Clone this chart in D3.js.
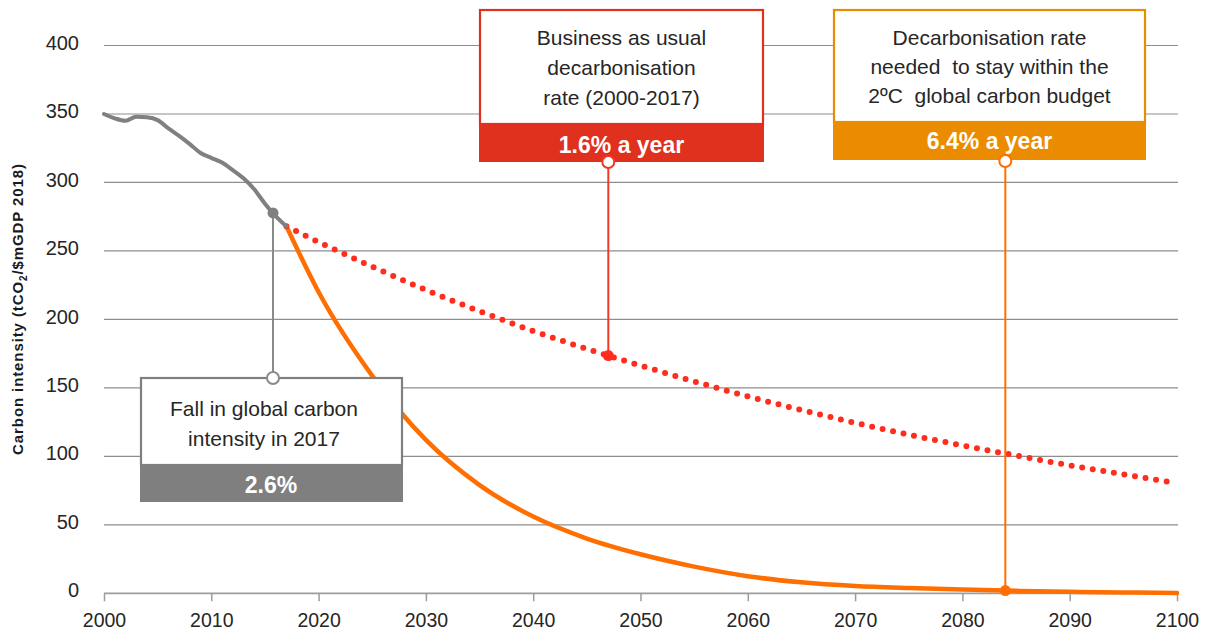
<!DOCTYPE html>
<html>
<head>
<meta charset="utf-8">
<script src="https://cdn.jsdelivr.net/npm/d3@7"></script>
<style>
  html, body { margin: 0; padding: 0; background: #ffffff; }
  svg { display: block; font-family: "Liberation Sans", Arial, Helvetica, sans-serif; }
  text { white-space: pre; }
</style>
</head>
<body>
<svg id="chart" width="1224" height="632"></svg>
<script>
// ---------- data ----------
const histYears  = [2000,2001,2002,2003,2004,2005,2006,2007,2008,2009,2010,2011,2012,2013,2014,2015,2016,2017];
const histValues = [350,346.8,345,348,347.6,345.5,339.5,334,328,321.5,318,314.5,309,303,295,284.5,275.5,268];

const projYears  = [2017,2020,2025,2030,2035,2040,2045,2050,2055,2060,2065,2070,2075,2080,2085,2090,2095,2100];
const bauValues  = [268,256.5,238.5,221.5,206,191.5,178.5,166.3,154.7,143.8,133.8,124.5,115.8,108,100.6,93.4,86.8,80.5];
const budgetValues = [268,220,158.8,112,79,56,40,28.5,19.5,12.5,8,5.3,3.8,2.7,1.8,1.1,0.6,0.3];

const xTicks = [2000,2010,2020,2030,2040,2050,2060,2070,2080,2090,2100];
const yTicks = [0,50,100,150,200,250,300,350,400];

const yTitle = ["Carbon intensity (tCO", "2", "/$mGDP 2018)"];

const histNote   = { year: 2015.75, lines: ["Fall in global carbon", "intensity in 2017"], value: "2.6%" };
const bauNote    = { year: 2047, lines: ["Business as usual", "decarbonisation", "rate (2000-2017)"], value: "1.6% a year" };
const budgetNote = { year: 2084, lines: ["Decarbonisation rate", "needed  to stay within the", "2ºC  global carbon budget"], value: "6.4% a year" };

// ---------- setup ----------
const svg = d3.select("#chart");
const x = d3.scaleLinear().domain([2000, 2100]).range([104, 1177]);
const y = d3.scaleLinear().domain([0, 400]).range([593.3, 45.5]);

const C = {
  grid: "#8e8e8e", axis: "#9c9c9c", gray: "#808080",
  red: "#ff2d1e", redBox: "#e0301e", orange: "#ff6e00", orangeBox: "#eb8c00",
  text: "#262626"
};

svg.append("rect").attr("width", 1224).attr("height", 632).attr("fill", "#fff");

// gridlines
svg.append("g").selectAll("line").data(yTicks.filter(d => d > 0)).join("line")
  .attr("x1", x(2000)).attr("x2", x(2100) + 1)
  .attr("y1", d => y(d)).attr("y2", d => y(d))
  .attr("stroke", C.grid).attr("stroke-width", 1.2);

// x axis
const xAxis = svg.append("g").attr("transform", `translate(0,${y(0)})`)
  .call(d3.axisBottom(x).tickValues(xTicks).tickSize(8).tickPadding(12).tickFormat(d3.format("d")));
xAxis.select(".domain").remove();
xAxis.selectAll(".tick line").attr("stroke", C.axis).attr("stroke-width", 1.5);
xAxis.selectAll(".tick text").attr("font-size", 19.5).attr("fill", C.text)
  .attr("font-family", "'Liberation Sans', Arial, sans-serif");
svg.append("line").attr("x1", x(2000)).attr("x2", x(2100) + 1)
  .attr("y1", y(0)).attr("y2", y(0)).attr("stroke", C.axis).attr("stroke-width", 1.8);

// y axis
const yAxis = svg.append("g").attr("transform", `translate(${x(2000)},0)`)
  .call(d3.axisLeft(y).tickValues(yTicks).tickSize(0).tickPadding(25));
yAxis.select(".domain").remove();
yAxis.selectAll(".tick text").attr("font-size", 20).attr("fill", C.text).attr("dy", "0.18em")
  .attr("font-family", "'Liberation Sans', Arial, sans-serif");

// y title
const yt = svg.append("text")
  .attr("transform", "translate(23,309) rotate(-90)")
  .attr("text-anchor", "middle").attr("font-size", 15).attr("font-weight", "bold").attr("fill", "#1a1a1a")
  .attr("letter-spacing", 0.9);
yt.append("tspan").text(yTitle[0]);
yt.append("tspan").text(yTitle[1]).attr("font-size", 10).attr("dy", 4);
yt.append("tspan").text(yTitle[2]).attr("dy", -4);

// ---------- lines ----------
const hist = histYears.map((d, i) => ({ year: d, v: histValues[i] }));
const bau = projYears.map((d, i) => ({ year: d, v: bauValues[i] }));
const budget = projYears.map((d, i) => ({ year: d, v: budgetValues[i] }));

const line = d3.line().x(d => x(d.year)).y(d => y(d.v)).curve(d3.curveMonotoneX);

svg.append("path").datum(budget).attr("d", line)
  .attr("fill", "none").attr("stroke", C.orange).attr("stroke-width", 4.5).attr("stroke-linecap", "round");

svg.append("path").datum(bau).attr("d", line)
  .attr("fill", "none").attr("stroke", C.red).attr("stroke-width", 6)
  .attr("stroke-dasharray", "0,10.7").attr("stroke-linecap", "round");

svg.append("path").datum(hist).attr("d", line)
  .attr("fill", "none").attr("stroke", C.gray).attr("stroke-width", 4)
  .attr("stroke-linejoin", "round").attr("stroke-linecap", "round");

// ---------- annotations ----------
function valueAt(series, yr) {
  const i = d3.bisector(d => d.year).right(series, yr);
  const a = series[Math.max(0, i - 1)], b = series[Math.min(series.length - 1, i)];
  if (a.year === b.year) return a.v;
  return a.v + (b.v - a.v) * (yr - a.year) / (b.year - a.year);
}

function box(note, o) {
  const g = svg.append("g");
  const mx = x(note.year), my = y(valueAt(o.series, note.year));
  g.append("line").attr("x1", mx).attr("x2", mx).attr("y1", my).attr("y2", o.circleY)
    .attr("stroke", o.lineColor).attr("stroke-width", 2);
  g.append("circle").attr("cx", mx).attr("cy", my).attr("r", 5.5).attr("fill", o.dotColor);
  g.append("rect").attr("x", o.left).attr("y", o.top).attr("width", o.right - o.left).attr("height", o.bandTop - o.top)
    .attr("fill", "#fff").attr("stroke", o.color).attr("stroke-width", 2.2);
  g.append("rect").attr("x", o.left - 1).attr("y", o.bandTop).attr("width", o.right - o.left + 2).attr("height", o.bottom - o.bandTop)
    .attr("fill", o.color);
  note.lines.forEach((t, i) => {
    g.append("text").attr("x", o.textX).attr("y", o.firstBase + i * o.lineGap)
      .attr("text-anchor", "middle").attr("font-size", 21).attr("fill", C.text).text(t);
  });
  g.append("text").attr("x", o.valueX).attr("y", o.valueBase)
    .attr("text-anchor", "middle").attr("font-size", 23).attr("font-weight", "bold").attr("fill", "#fff").text(note.value);
  g.append("circle").attr("cx", mx).attr("cy", o.circleY).attr("r", 6)
    .attr("fill", "#fff").attr("stroke", o.lineColor).attr("stroke-width", 2);
}

box(bauNote, { series: bau, left: 480, right: 763, top: 10, bandTop: 124, bottom: 162,
  color: C.redBox, lineColor: "#f0392a", dotColor: C.red, circleY: 162,
  textX: 621.5, firstBase: 45, lineGap: 30, valueX: 621.5, valueBase: 153 });

box(budgetNote, { series: budget, left: 834, right: 1145, top: 10, bandTop: 122, bottom: 160,
  color: C.orangeBox, lineColor: C.orange, dotColor: C.orange, circleY: 161,
  textX: 989.5, firstBase: 45, lineGap: 29, valueX: 989.5, valueBase: 149 });

box(histNote, { series: hist, left: 141, right: 402, top: 378, bandTop: 465, bottom: 502,
  color: "#7f7f7f", lineColor: "#8a8a8a", dotColor: C.gray, circleY: 378,
  textX: 264, firstBase: 416, lineGap: 30, valueX: 271, valueBase: 493 });
</script>
</body>
</html>
